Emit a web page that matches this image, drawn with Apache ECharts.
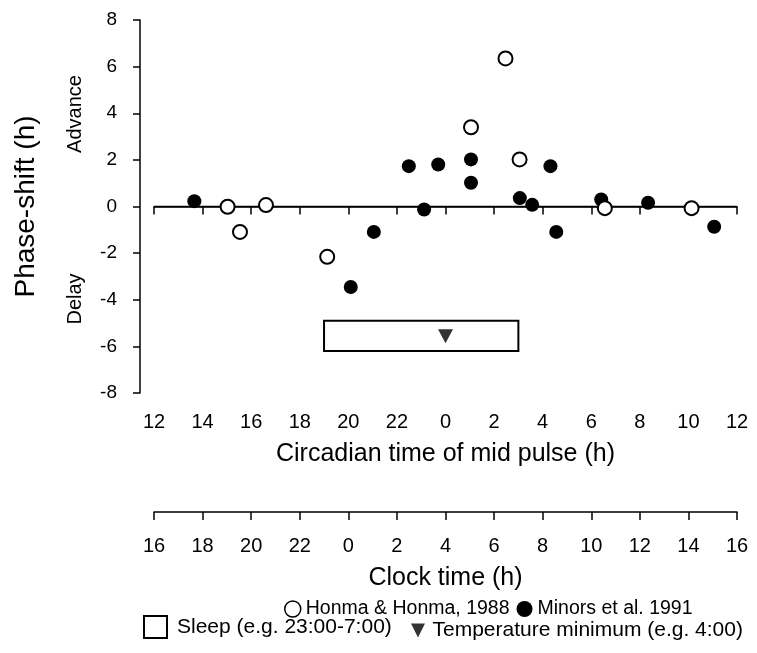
<!DOCTYPE html>
<html>
<head>
<meta charset="utf-8">
<script src="https://cdn.jsdelivr.net/npm/echarts@6/dist/echarts.min.js"></script>
<style>
html,body{margin:0;padding:0;background:#fff;}
#chart{width:757px;height:653px;}
</style>
</head>
<body>
<div id="chart"></div>
<script>
// Circadian time of mid pulse (h), 12..36 (i.e. 12 -> 24/0 -> 12)
var honmaX = [15.03, 15.54, 16.61, 19.13, 25.05, 26.47, 27.05, 30.56, 34.13];
var honmaY = [-0.01, -1.09, 0.06, -2.16, 3.40, 6.35, 2.02, -0.07, -0.07];
var minorsX = [13.66, 20.10, 21.05, 22.49, 23.12, 23.70, 25.05, 25.05, 27.06, 27.57, 28.32, 28.56, 30.41, 32.34, 35.06];
var minorsY = [0.23, -3.45, -1.09, 1.73, -0.13, 1.80, 2.02, 1.02, 0.36, 0.07, 1.73, -1.09, 0.30, 0.16, -0.87];
var sleepBox = [19, -4.9, 27, -6.2];     // start, top, end, bottom (circadian h, phase h)
var tempMin = [24, -5.57];
var circadianRange = [12, 36];
var clockRange = [16, 40];
var yRange = [-8, 8];

function pairs(xs, ys){ return xs.map(function(x,i){ return [x, ys[i]]; }); }

var FONT = 'Liberation Sans, Arial, sans-serif';
var chart = echarts.init(document.getElementById('chart'), null, {renderer:'canvas'});

var option = {
  backgroundColor: '#fff',
  animation: false,
  textStyle: {fontFamily: FONT, color: '#000'},
  grid: {left: 154, right: 20, top: 20, bottom: 260},
  xAxis: [
    {
      type: 'value', min: circadianRange[0], max: circadianRange[1], interval: 2,
      position: 'bottom', offset: 3,
      axisLine: {show: true, lineStyle: {color: '#000', width: 1.5}},
      axisTick: {show: true, inside: false, length: 8, lineStyle: {color: '#000', width: 1.5}},
      splitLine: {show: false},
      axisLabel: {margin: 16, fontSize: 20, color: '#000', fontFamily: FONT,
        formatter: function(v){ return String(v % 24); }},
      name: 'Circadian time of mid pulse (h)', nameLocation: 'middle', nameGap: 46,
      nameTextStyle: {fontSize: 25, color: '#000', fontFamily: FONT}
    },
    {
      type: 'value', min: clockRange[0], max: clockRange[1], interval: 2,
      position: 'bottom', offset: 119,
      axisLine: {show: true, lineStyle: {color: '#000', width: 1.5}},
      axisTick: {show: true, inside: false, length: 8, lineStyle: {color: '#000', width: 1.5}},
      splitLine: {show: false},
      axisLabel: {margin: 24, fontSize: 20, color: '#000', fontFamily: FONT,
        formatter: function(v){ return String(v % 24); }},
      name: 'Clock time (h)', nameLocation: 'middle', nameGap: 54,
      nameTextStyle: {fontSize: 25, color: '#000', fontFamily: FONT}
    }
  ],
  yAxis: {
    type: 'value', min: yRange[0], max: yRange[1], interval: 2,
    position: 'left', offset: 14,
    axisLine: {show: true, lineStyle: {color: '#000', width: 1.5}},
    axisTick: {show: true, inside: false, length: 7, lineStyle: {color: '#000', width: 1.5}},
    splitLine: {show: false},
    axisLabel: {margin: 23, fontSize: 19, color: '#000', fontFamily: FONT},
    name: 'Phase-shift (h)', nameLocation: 'middle', nameGap: 100, nameRotate: 90,
    nameTextStyle: {fontSize: 28, color: '#000', fontFamily: FONT}
  },
  legend: [
    {
      left: 284, top: 599, padding: 0, orient: 'horizontal', itemWidth: 16, itemHeight: 16, itemGap: 7,
      selectedMode: false,
      textStyle: {fontSize: 19.5, color: '#000', fontFamily: FONT},
      data: [
        {name: 'Honma & Honma, 1988', icon: 'circle', itemStyle: {color: '#fff', borderColor: '#000', borderWidth: 1.5}},
        {name: 'Minors et al. 1991', icon: 'circle', itemStyle: {color: '#000'}}
      ]
    },
    {
      left: 143, top: 615, padding: 0, itemWidth: 23, itemHeight: 22, selectedMode: false,
      textStyle: {fontSize: 21, color: '#000', fontFamily: FONT, padding: [3, 0, 0, 5]},
      data: [{name: 'Sleep (e.g. 23:00-7:00)', icon: 'rect', itemStyle: {color: '#fff', borderColor: '#000', borderWidth: 2}}]
    },
    {
      left: 411, top: 620, padding: 0, itemWidth: 15, itemHeight: 14, selectedMode: false,
      textStyle: {fontSize: 21, color: '#000', fontFamily: FONT, padding: [0, 0, 0, 2]},
      data: [{name: 'Temperature minimum (e.g. 4:00)', icon: 'path://M0,0 L10,0 L5,10 Z', itemStyle: {color: '#000'}}]
    }
  ],
  graphic: [
    {type: 'text', x: 75, y: 114, rotation: Math.PI/2,
      style: {text: 'Advance', fontSize: 20, fontFamily: FONT, fill: '#000', align: 'center', verticalAlign: 'middle'}},
    {type: 'text', x: 75, y: 299, rotation: Math.PI/2,
      style: {text: 'Delay', fontSize: 20, fontFamily: FONT, fill: '#000', align: 'center', verticalAlign: 'middle'}}
  ],
  series: [
    {
      name: 'zero', type: 'line', xAxisIndex: 0, data: [[circadianRange[0], 0], [circadianRange[1], 0]],
      symbol: 'none', lineStyle: {color: '#000', width: 1.5}, silent: true, z: 1
    },
    {
      name: 'Sleep (e.g. 23:00-7:00)', type: 'custom', xAxisIndex: 0, z: 2,
      itemStyle: {color: '#fff', borderColor: '#000', borderWidth: 2},
      data: [sleepBox],
      renderItem: function(params, api){
        var p1 = api.coord([api.value(0), api.value(1)]);
        var p2 = api.coord([api.value(2), api.value(3)]);
        return {type: 'rect', shape: {x: p1[0], y: p1[1], width: p2[0]-p1[0], height: p2[1]-p1[1]},
          style: {fill: '#fff', stroke: '#000', lineWidth: 2}};
      }
    },
    {
      name: 'Temperature minimum (e.g. 4:00)', type: 'scatter', xAxisIndex: 0, z: 3,
      data: [tempMin], symbol: 'path://M0,0 L10,0 L5,10 Z', symbolSize: [15, 14],
      itemStyle: {color: '#000'}
    },
    {
      name: 'Minors et al. 1991', type: 'scatter', xAxisIndex: 0, z: 4,
      data: pairs(minorsX, minorsY), symbol: 'circle', symbolSize: 14,
      itemStyle: {color: '#000', opacity: 1}
    },
    {
      name: 'Honma & Honma, 1988', type: 'scatter', xAxisIndex: 0, z: 5,
      data: pairs(honmaX, honmaY), symbol: 'circle', symbolSize: 14,
      itemStyle: {color: '#fff', borderColor: '#000', borderWidth: 2, opacity: 1}
    }
  ]
};
chart.setOption(option);
</script>
</body>
</html>
